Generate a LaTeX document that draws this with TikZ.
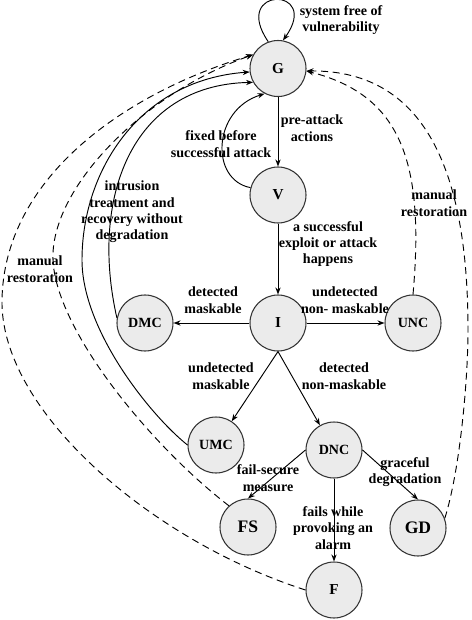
\documentclass[tikz,border=0pt]{standalone}
\usepackage{fontspec}
\setmainfont{Liberation Serif}
\usetikzlibrary{arrows.meta}
\tikzset{
  state/.style={circle, draw=black!80, line width=0.9pt, fill=black!8,
    minimum size=1.68cm, inner sep=0pt, font=\bfseries\fontsize{13}{15}\selectfont},
  bigstate/.style={state, font=\bfseries\fontsize{15}{17}\selectfont},
  widestate/.style={state, font=\bfseries\fontsize{12}{14}\selectfont},
  lbl/.style={align=center, inner sep=0pt, font=\bfseries\fontsize{12}{14}\selectfont},
}
\begin{document}
\begin{tikzpicture}[x=0.03cm, y=-0.03cm, line width=0.8pt,
    >={Stealth[length=6pt,width=4.5pt]}]
  \useasboundingbox (0,0) rectangle (471,620);
  % states
  \node[state] (G) at (278,68.5) {G};
  \node[state] (V) at (278,195) {V};
  \node[state] (I) at (278,323) {I};
  \node[widestate] (DMC) at (145,323) {DMC};
  \node[widestate] (UNC) at (413,323) {UNC};
  \node[widestate] (UMC) at (216,445) {UMC};
  \node[widestate] (DNC) at (334,450) {DNC};
  \node[bigstate] (FS) at (248,527) {FS};
  \node[bigstate] (GD) at (418,528) {GD};
  \node[state] (F) at (334,590) {F};
  % labels
  \node[lbl] (sysfree) at (341,20) {system free of\\vulnerability};
  \node[lbl] (preatk) at (312,128) {pre-attack\\actions};
  \node[lbl] (fixed) at (221,144) {fixed before\\successful attack};
  \node[lbl] (exploit) at (328,244) {a successful\\exploit or attack\\happens};
  \node[lbl] (detmask) at (213,300) {detected\\maskable};
  \node[lbl] (undnon) at (345,300) {undetected\\non- maskable};
  \node[lbl] (undmask) at (221,376) {undetected\\maskable};
  \node[lbl] (detnon) at (344,376) {detected\\non-maskable};
  \node[lbl] (failsec) at (268,478) {fail-secure\\measure};
  \node[lbl] (graceful) at (405,472) {graceful\\degradation};
  \node[lbl] (alarm) at (333,528) {fails while\\provoking an\\alarm};
  \node[lbl] (intrusion) at (132,212) {intrusion\\treatment and\\recovery without\\degradation};
  \node[lbl] (manleft) at (40,269) {manual\\restoration};
  \node[lbl] (manright) at (434,203) {manual\\restoration};
  % transitions
  \begin{scope}[->]
    \draw (G.110) .. controls (230,-14) and (322,-14) .. (G.80);
    \draw (G) -- (V);
    \draw (V.165) .. controls (210,180) and (212,110) .. (G.242);
    \draw (V) -- (I);
    \draw (I) -- (DMC);
    \draw (I) -- (UNC);
    \draw (I.south) -- (UMC);
    \draw (I.south) -- (DNC);
    \draw (DNC.west) -- (FS.north);
    \draw (DNC.east) -- (GD.north);
    \draw (DNC) -- (F);
    \draw (DMC.170) .. controls (90,200) and (130,85) .. (G.209);
    \draw (UMC.west) .. controls (150,415) and (82,330) .. (82,260)
      .. controls (82,170) and (140,80) .. (G.187);
  \end{scope}
  \begin{scope}[->, dash pattern=on 6pt off 4pt]
    \draw (F.west) .. controls (150,540) and (0,410) .. (2,300)
      .. controls (4,180) and (120,95) .. (G.151);
    \draw (FS.132) .. controls (150,445) and (56,330) .. (53,260)
      .. controls (50,190) and (140,95) .. (G.151);
    \draw (UNC.north) .. controls (425,160) and (400,95) .. (G.355);
    \draw (GD.20) .. controls (460,470) and (468,380) .. (468,330)
      .. controls (468,180) and (430,70) .. (G.355);
  \end{scope}
\end{tikzpicture}
\end{document}
